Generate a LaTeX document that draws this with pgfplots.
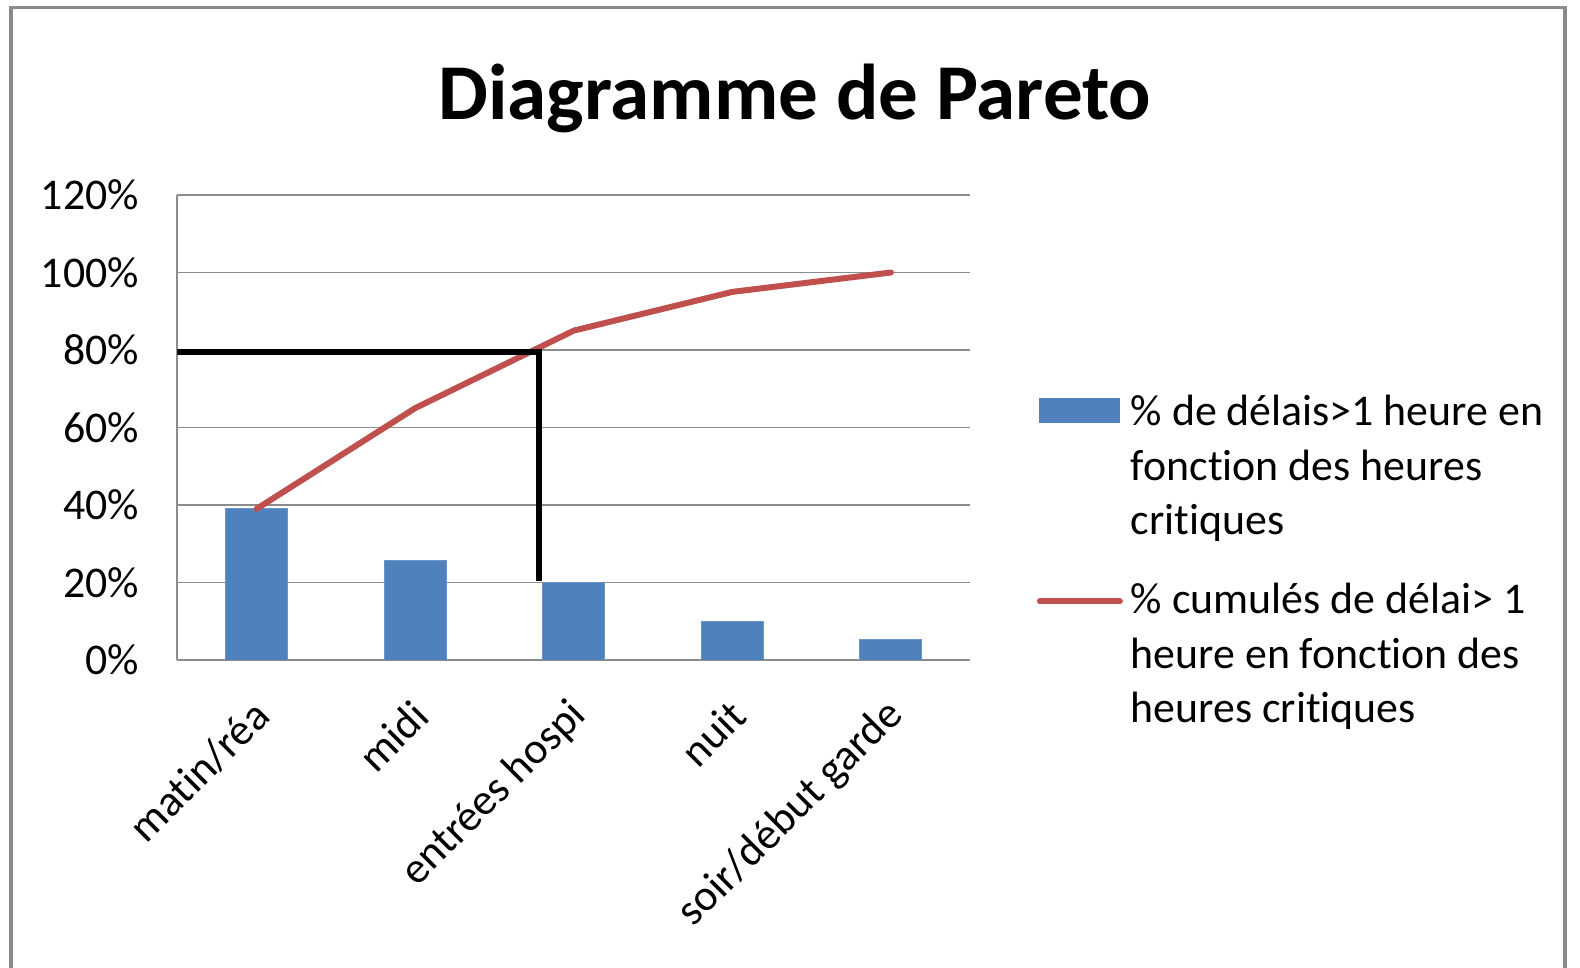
\documentclass[border=0pt]{standalone}
\usepackage{pgfplots}
\pgfplotsset{compat=1.18}
\usepackage{fontspec}
\setmainfont{Carlito}[Ligatures={NoCommon}]
\definecolor{barblue}{HTML}{4F81BD}
\definecolor{linered}{HTML}{C0504D}
\definecolor{gridgray}{HTML}{8C8C8C}
\definecolor{framegray}{HTML}{8A8A8A}
\newcommand{\leg}[1]{\parbox[b]{215bp}{\raggedright\fontsize{22}{27.5}\selectfont #1}}
\begin{document}
\begin{tikzpicture}
\useasboundingbox (0bp,0bp) rectangle (790bp,484bp);
\draw[framegray, line width=1.6bp] (5.5bp,-11bp) -- (5.5bp,480.25bp) -- (782.5bp,480.25bp) -- (782.5bp,-11bp);
\node[font=\bfseries\fontsize{39.7}{47}\selectfont] at (397.5bp,435bp) {Diagramme de Pareto};
\begin{axis}[
  at={(88.65bp,154bp)}, anchor=south west,
  scale only axis, width=396.5bp, height=232.5bp,
  xmin=-0.5, xmax=4.5, ymin=0, ymax=120,
  xtick={0,1,2,3,4},
  xticklabels={matin/réa, midi, entrées hospi, nuit, soir/début garde},
  ytick={0,20,40,60,80,100,120},
  yticklabel={\pgfmathprintnumber{\tick}\%},
  /pgf/number format/assume math mode=true,
  major tick length=0pt,
  axis x line*=bottom, axis y line*=left,
  axis line style={gridgray, line width=1bp},
  ymajorgrids, major grid style={gridgray, line width=0.9bp},
  yticklabel style={font=\fontsize{22}{26}\selectfont, inner sep=0pt, xshift=-19bp},
  xticklabel style={font=\fontsize{22}{26}\selectfont, rotate=45, anchor=east, inner sep=0pt, xshift=-15.05bp, yshift=-19.15bp},
  legend style={at={(1.084,0.57)}, anchor=north west, draw=none, fill=none,
    inner sep=0pt, outer sep=0pt, column sep=4bp, row sep=22.5bp,
    nodes={inner sep=0pt}, cells={anchor=base west}},
]
\addplot[ybar, bar width=31bp, fill=barblue, draw=barblue!85!white, line width=0.5bp,
  legend image code/.code={\fill[barblue] (0bp,56.3bp) rectangle (40bp,68.3bp);}]
  coordinates {(0,39) (1,25.7) (2,20) (3,10) (4,5.2)};
\addlegendentry{\leg{\% de délais>1 heure en\newline fonction des heures\newline critiques}}
\addplot[linered, line width=3bp, line cap=round, mark=none,
  legend image code/.code={\draw[linered, line width=3bp, line cap=round] (0bp,60.8bp) -- (40bp,60.8bp);}]
  coordinates {(0,39) (1,65) (2,85) (3,95) (4,100)};
\addlegendentry{\leg{\% cumulés de délai> 1\newline heure en fonction des\newline heures critiques}}
\addplot[black, line width=3bp, forget plot] coordinates {(-0.5,79.5) (1.78,79.5) (1.78,20.5)};
\end{axis}
\end{tikzpicture}
\end{document}
